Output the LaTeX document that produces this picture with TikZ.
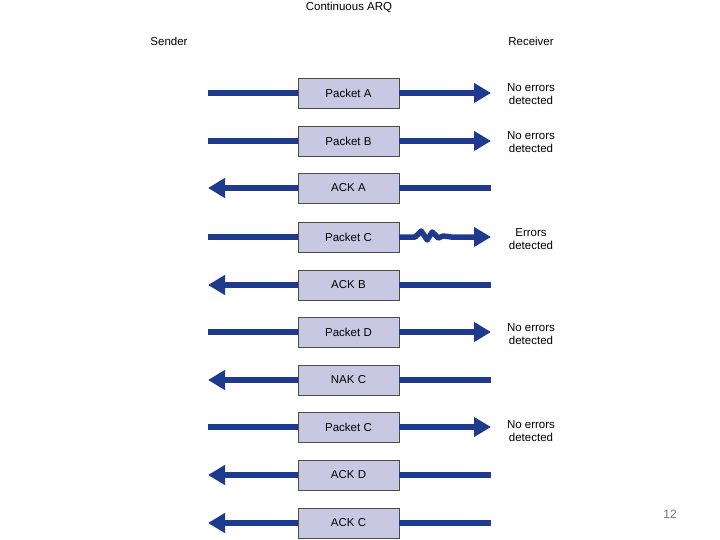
\documentclass[tikz,border=0pt]{standalone}
\usepackage{fontspec}
\setmainfont{Liberation Sans}
\usetikzlibrary{arrows.meta}
\definecolor{arq}{RGB}{30,58,140}
\definecolor{boxfill}{RGB}{200,200,226}
\tikzset{
  pkt/.style={draw=black!70, fill=boxfill, minimum width=101pt, minimum height=30pt, inner sep=0pt, font=\fontsize{11.5}{13}\selectfont},
  flow/.style={draw=arq, line width=5.5pt},
  flowtip/.style={flow, -{Triangle[length=17pt,width=19pt]}},
  lbl/.style={font=\fontsize{11.5}{13.5}\selectfont, align=center, inner sep=0pt},
}
\begin{document}
\begin{tikzpicture}[x=1pt,y=-1pt]
\useasboundingbox (0,0) rectangle (720,540);
\node[lbl] (title) at (349,7) {Continuous ARQ};
\node[lbl] (sender) at (169,41) {Sender};
\node[lbl] (receiver) at (531,41) {Receiver};
\node[font=\fontsize{12}{13}\selectfont, text=black!55, inner sep=0pt] (page) at (670,514) {12};
% rows: name, y, label, direction (r = to receiver, l = to sender)
\foreach \n/\y/\t/\d in {a/93/Packet A/r, b/141/Packet B/r, c/188/ACK A/l, d/237/Packet C/w,
  e/285/ACK B/l, f/332/Packet D/r, g/380/NAK C/l, h/427/Packet C/r, i/475/ACK D/l, j/523/ACK C/l}{
  \node[pkt] (\n) at (348.5,\y) {\t};
  \coordinate (\n s) at (208,\y);
  \coordinate (\n r) at (491,\y);
  \if\d r
    \draw[flow] (\n s) -- (\n.west);
    \draw[flowtip] (\n.east) -- (\n r);
  \fi
  \if\d l
    \draw[flow] (\n r) -- (\n.east);
    \draw[flowtip] (\n.west) -- (\n s);
  \fi
}
% Packet C with error (wavy)
\draw[flow] (ds) -- (d.west);
\draw[flowtip, line join=round] (d.east) -- ++(16,0) -- ++(6,-6) -- ++(6,9) -- ++(5,-8) -- ++(6,6) -- ++(5,-2) -- ++(8,1) -- (dr);
\node[lbl] (la) at (531,94) {No errors\\detected};
\node[lbl] (lb) at (531,142) {No errors\\detected};
\node[lbl] (ld) at (531,239) {Errors\\detected};
\node[lbl] (lf) at (531,334) {No errors\\detected};
\node[lbl] (lh) at (531,431) {No errors\\detected};
\end{tikzpicture}
\end{document}
